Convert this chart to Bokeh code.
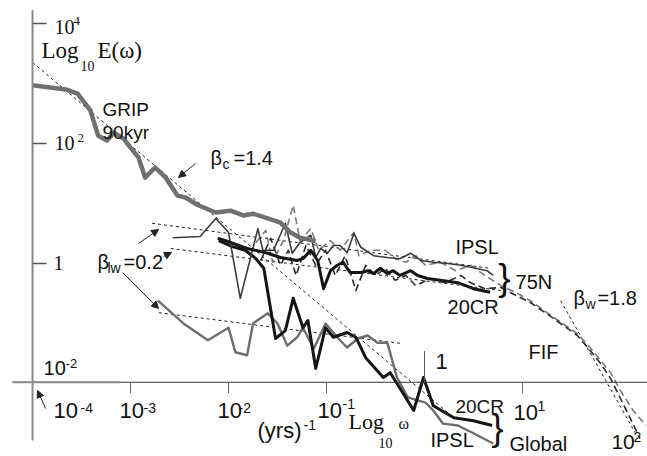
from bokeh.plotting import figure
from bokeh.models import Range1d, Arrow, NormalHead
from bokeh.core.properties import value
from bokeh.embed import file_html
from bokeh.resources import INLINE

# ---- data, in log10 units: x = log10(omega / yr^-1), y = log10 E(omega) ----
grip_x = [-4.00, -3.66, -3.54, -3.41, -3.33, -3.24, -3.17, -3.07, -3.00, -2.92, -2.85, -2.75, -2.64,
          -2.52, -2.44, -2.31, -2.13, -1.98, -1.85, -1.75, -1.60, -1.47, -1.37, -1.27, -1.11]
grip_y = [2.97, 2.90, 2.83, 2.55, 2.13, 2.05, 2.18, 2.08, 1.93, 1.77, 1.43, 1.60, 1.43,
          1.13, 1.10, 0.97, 0.85, 0.88, 0.80, 0.83, 0.75, 0.68, 0.52, 0.43, 0.37]

ipsl75_x = [-2.57, -2.29, -2.13, -2.00, -1.88, -1.70, -1.65, -1.54, -1.42, -1.35, -1.27, -1.16, -1.11,
            -1.06, -0.99, -0.93, -0.86, -0.79, -0.72, -0.65, -0.52, -0.38, -0.25, -0.14, -0.04,
            0.09, 0.24, 0.37, 0.50, 0.64, 0.70]
ipsl75_y = [0.43, 0.45, 0.75, 0.52, -0.58, 0.58, 0.22, 0.22, 0.67, 0.17, 0.35, 0.47, 0.10,
            0.25, 0.17, 0.30, 0.30, 0.18, 0.50, 0.27, 0.13, 0.10, 0.08, 0.17, 0.05,
            0.02, 0.00, -0.03, -0.07, -0.12, -0.20]

cr75_x = [-2.11, -2.03, -1.81, -1.60, -1.47, -1.30, -1.24, -1.16, -1.09, -1.03, -0.96, -0.89, -0.83,
          -0.76, -0.65, -0.58, -0.52, -0.45, -0.38, -0.32, -0.25, -0.14, -0.07, 0.03, 0.16, 0.34,
          0.50, 0.67]
cr75_y = [0.42, 0.38, 0.25, 0.17, 0.10, 0.05, 0.08, 0.22, 0.05, -0.42, -0.12, -0.03, 0.02,
          -0.15, -0.15, -0.12, -0.17, -0.08, -0.17, -0.12, -0.20, -0.12, -0.20, -0.25, -0.28, -0.32,
          -0.42, -0.48]

crglob_x = [-2.10, -1.96, -1.83, -1.72, -1.64, -1.52, -1.42, -1.34, -1.24, -1.19, -1.11, -1.01, -0.93,
            -0.79, -0.70, -0.60, -0.42, -0.35, -0.25, -0.11, -0.01, 0.09, 0.30, 0.50, 0.69]
crglob_y = [0.38, 0.28, 0.22, 0.08, -0.08, -1.25, -1.12, -0.58, -1.07, -0.95, -1.75, -1.07, -1.23,
            -1.15, -1.23, -1.57, -1.90, -1.82, -2.08, -2.45, -1.90, -2.37, -2.57, -2.62, -2.70]

ipslglob_x = [-2.72, -2.46, -2.21, -2.00, -1.93, -1.81, -1.75, -1.60, -1.50, -1.40, -1.30, -1.24, -1.13,
              -1.01, -0.89, -0.79, -0.68, -0.58, -0.48, -0.38, -0.28, -0.17, -0.07, 0.01, 0.09, 0.19,
              0.34, 0.50, 0.70]
ipslglob_y = [-0.62, -1.00, -1.28, -1.07, -1.48, -1.53, -1.00, -0.83, -1.00, -1.37, -1.23, -1.07, -1.42,
              -1.00, -1.23, -1.40, -1.25, -1.20, -1.32, -1.32, -1.90, -2.23, -2.28, -2.32, -2.45, -2.67,
              -2.70, -2.83, -3.00]

fif_a_x = [-1.72, -1.62, -1.55, -1.44, -1.34, -1.27, -1.16, -1.08, -0.96, -0.86, -0.72, -0.67, -0.55,
           -0.40, -0.30, -0.19, -0.09, 0.01, 0.16, 0.32, 0.47, 0.62, 0.78, 0.93, 1.08, 1.32, 1.56,
           1.69, 1.80, 1.90, 2.00, 2.13, 2.26]
fif_a_y = [0.35, 0.55, 0.02, 0.38, 0.97, 0.38, 0.58, 0.22, 0.38, 0.22, 0.52, 0.13, 0.22,
           0.22, 0.08, 0.02, 0.13, -0.03, 0.02, -0.12, -0.03, -0.20, -0.37, -0.48, -0.62, -0.90, -1.17,
           -1.40, -1.62, -1.82, -2.12, -2.45, -2.70]

fif_b_x = [-1.67, -1.57, -1.47, -1.39, -1.31, -1.21, -1.11, -1.01, -0.91, -0.81, -0.70, -0.60, -0.50,
           -0.40, -0.30, -0.19, -0.09, 0.06, 0.21, 0.37, 0.47, 0.62, 0.78, 0.93, 1.08, 1.32, 1.56,
           1.69, 1.80, 1.90, 2.00, 2.10, 2.20]
fif_b_y = [0.05, 0.42, -0.03, 0.22, -0.20, 0.30, -0.03, 0.22, -0.20, 0.13, -0.45, -0.03, -0.20,
           -0.08, -0.28, -0.20, -0.37, -0.25, -0.32, -0.20, -0.32, -0.42, -0.40, -0.53, -0.65, -0.92, -1.20,
           -1.45, -1.67, -1.92, -2.25, -2.58, -2.92]

# scaling fits: beta_c, beta_lw (IPSL 75N, 20CR 75N, Global), beta_w
fit_x0 = [-4.00, -2.78, -2.59, -2.71, 1.39]
fit_y0 = [3.35, 0.67, 0.25, -0.82, -0.62]
fit_x1 = [0.27, 0.67, 0.78, -0.25, 2.15]
fit_y1 = [-2.53, -0.08, -0.45, -1.33, -2.82]

y_tick_values = [4, 2, 0]
x_tick_values_below = [-3, -2, -1, 1]
x_tick_value_up = 0
axis_x_level = -1.98   # horizontal axis drawn at E = 10^-2
axis_y_level = -4      # vertical axis drawn at omega = 10^-4

SANS = "Liberation Sans"
SERIF = "Liberation Serif"
INK = "#111111"
Y_PER_PX = 1 / 60.0

p = figure(width=647, height=456, x_range=Range1d(-4.327, 2.276), y_range=Range1d(-3.217, 4.383),
           output_backend="svg", toolbar_location=None, min_border=0,
           x_axis_location=None, y_axis_location=None)
p.grid.visible = False
p.outline_line_color = None
p.background_fill_color = "white"


def label(x, y, s, size, font=SANS, align="left"):
    # lift the text slightly: the svg text baseline sits a little below the anchor
    yy = y + 0.34 * size * Y_PER_PX
    p.text(x=[x], y=[yy], text=[s], text_font=value(font), text_font_size=f"{size}px",
           text_align=align, text_baseline="alphabetic", text_color=INK)


# fits
p.segment(x0=fit_x0, y0=fit_y0, x1=fit_x1, y1=fit_y1, line_color="#222222", line_width=1,
          line_dash="3 3")

# FIF dashed spectra
p.line(fif_a_x, fif_a_y, line_color="#7a7a7a", line_width=1.6, line_dash="7 4", line_join="round")
p.line(fif_b_x, fif_b_y, line_color="#2a2a2a", line_width=1.6, line_dash="7 4", line_join="round")

# spectra
p.line(ipslglob_x, ipslglob_y, line_color="#6e6e6e", line_width=2.4, line_join="round")
p.line(crglob_x, crglob_y, line_color="#151515", line_width=3, line_join="round")
p.line(ipsl75_x, ipsl75_y, line_color="#3c3c3c", line_width=1.6, line_join="round")
p.line(cr75_x, cr75_y, line_color="#151515", line_width=3, line_join="round")
p.line(grip_x, grip_y, line_color="#707070", line_width=4.5, line_join="round")

# axes
p.segment(x0=[axis_y_level], y0=[-2.95], x1=[axis_y_level], y1=[4.22], line_color="#8a8a8a", line_width=2)
p.segment(x0=[axis_y_level] * 3, y0=y_tick_values, x1=[axis_y_level + 0.143] * 3, y1=y_tick_values,
          line_color="#555555", line_width=1.5)
p.segment(x0=[-4.204], y0=[axis_x_level], x1=[2.276], y1=[axis_x_level], line_color="#333333", line_width=1)
p.segment(x0=[-4.204], y0=[axis_x_level], x1=[-3.1], y1=[axis_x_level], line_color="#8a8a8a", line_width=2)
p.segment(x0=x_tick_values_below, y0=[axis_x_level] * 4, x1=x_tick_values_below, y1=[axis_x_level - 0.18] * 4,
          line_color="#666666", line_width=1)
p.segment(x0=[x_tick_value_up], y0=[axis_x_level], x1=[x_tick_value_up], y1=[axis_x_level + 0.52],
          line_color="#555555", line_width=1)

# y-axis title and tick labels (serif)
label(-3.908, 3.417, "Log", 23, SERIF)
label(-3.510, 3.217, "10", 14, SERIF)
label(-3.337, 3.417, "E(ω)", 23, SERIF)
label(-3.776, 3.833, "10", 20, SERIF)
label(-3.582, 3.967, "4", 13, SERIF)
label(-3.776, 1.90, "10", 20, SERIF)
label(-3.541, 2.017, "2", 13, SERIF)
label(-3.786, -0.10, "1", 20, SERIF)

# x tick labels
label(-3.786, -2.583, "10", 22)
label(-3.510, -2.483, "-4", 14)
label(-3.112, -2.583, "10", 22)
label(-2.867, -2.483, "-3", 14)
label(-2.112, -2.583, "10", 22)
label(-1.898, -2.483, "-2", 14)
label(-1.092, -2.567, "10", 22)
label(-0.837, -2.417, "-1", 14)
label(0.112, -1.75, "1", 22)
label(0.908, -2.60, "10", 22)
label(1.153, -2.45, "1", 14)
label(1.908, -3.10, "10", 21)
label(2.133, -2.97, "2", 14)
label(-3.888, -1.85, "10", 20)
label(-3.663, -1.733, "-2", 13)
label(-1.704, -2.90, "(yrs)", 22)
label(-1.235, -2.767, "-1", 14)
label(-0.776, -2.75, "Log", 22, SERIF)
label(-0.469, -3.067, "10", 14, SERIF)
label(-0.265, -2.75, "ω", 16, SERIF)

# annotations
label(-3.286, 2.467, "GRIP", 19)
label(-3.286, 2.083, "90kyr", 19)
label(-2.184, 1.65, "β", 20)
label(-2.061, 1.583, "c", 14)
label(-1.949, 1.65, "=1.4", 20)
label(-3.337, -0.083, "β", 20)
label(-3.235, -0.15, "lw", 14)
label(-3.071, -0.083, "=0.2", 20)
label(0.316, 0.167, "IPSL", 20)
label(0.816, -0.45, "}", 37, align="center")
label(0.929, -0.417, "75N", 20)
label(0.235, -0.833, "20CR", 20)
label(1.520, -0.683, "β", 20)
label(1.643, -0.75, "w", 14)
label(1.765, -0.683, "=1.8", 20)
label(1.061, -1.583, "FIF", 20)
label(0.316, -2.483, "20CR", 19)
label(0.061, -3.05, "IPSL", 20)
label(0.745, -2.933, "}", 36, align="center")
label(0.867, -3.12, "Global", 20)

for xs, ys, xe, ye in [(-3.867, -2.417, -3.949, -2.117),
                       (-2.337, 1.667, -2.510, 1.433),
                       (-2.918, 0.333, -2.714, 0.567),
                       (-2.663, 0.117, -2.582, 0.183),
                       (-3.082, -0.15, -2.714, -0.75)]:
    p.add_layout(Arrow(end=NormalHead(size=7, fill_color="#222222", line_color="#222222", line_width=1),
                       x_start=xs, y_start=ys, x_end=xe, y_end=ye, line_color="#222222", line_width=1))

open("out.html", "w").write(file_html(p, INLINE))
